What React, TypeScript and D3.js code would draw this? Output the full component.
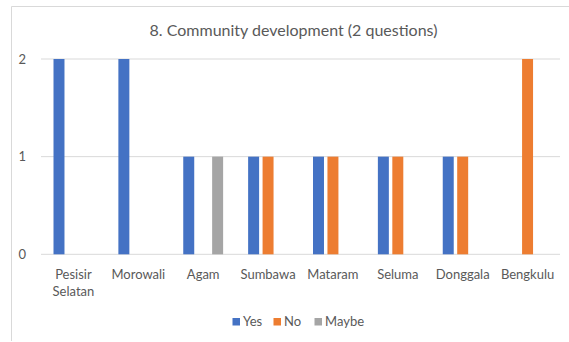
import React from "react";
import * as d3 from "d3";

const categories: string[][] = [
  ["Pesisir", "Selatan"],
  ["Morowali"],
  ["Agam"],
  ["Sumbawa"],
  ["Mataram"],
  ["Seluma"],
  ["Donggala"],
  ["Bengkulu"],
];
const seriesNames = ["Yes", "No", "Maybe"];
const seriesColors = ["#4472C4", "#ED7D31", "#A5A5A5"];
const yesValues = [2, 2, 1, 1, 1, 1, 1, 0];
const noValues = [0, 0, 0, 1, 1, 1, 1, 2];
const maybeValues = [0, 0, 1, 0, 0, 0, 0, 0];
const yTicks = [0, 1, 2];
const title = "8. Community development (2 questions)";

const W = 569;
const H = 342;
const FONT = "Lato, 'Open Sans', sans-serif";
const TEXT = "#595959";

export default function App() {
  const values = [yesValues, noValues, maybeValues];
  const keys = categories.map((c) => c.join(" "));
  const x0 = d3.scaleBand<string>().domain(keys).range([41, 560]).padding(0);
  const groupPad = 12.5;
  const x1 = d3
    .scaleBand<string>()
    .domain(seriesNames)
    .range([groupPad, x0.bandwidth() - groupPad])
    .paddingInner(0.24)
    .paddingOuter(0);
  const y = d3.scaleLinear().domain([0, 2]).range([254.3, 59]);

  const legendX = [232.5, 273.5, 314.5];

  return (
    <svg
      width={W}
      height={H}
      style={{ position: "absolute", left: 0, top: 0, background: "#fff" }}
      fontFamily={FONT}
    >
      <rect x={0} y={0} width={W} height={H} fill="#fff" />
      <path d={`M11.5,341 V6.5 H${W + 2}`} fill="none" stroke="#d9d9d9" strokeWidth={1} />
      <text x={293.5} y={35.5} textAnchor="middle" fontSize={16} fill={TEXT}>
        {title}
      </text>
      {yTicks.map((t) => (
        <g key={t}>
          <line x1={41} x2={560} y1={y(t)} y2={y(t)} stroke="#d9d9d9" strokeWidth={1} />
          <text x={26} y={y(t) + 4.5} textAnchor="end" fontSize={13} fill={TEXT}>
            {t}
          </text>
        </g>
      ))}
      {keys.map((k, i) => (
        <g key={k} transform={`translate(${x0(k)},0)`}>
          {seriesNames.map((s, j) =>
            values[j][i] > 0 ? (
              <rect
                key={s}
                x={x1(s)}
                width={x1.bandwidth()}
                y={y(values[j][i])}
                height={y(0) - y(values[j][i])}
                fill={seriesColors[j]}
              />
            ) : null
          )}
          <text
            x={x0.bandwidth() / 2}
            y={278.5}
            textAnchor="middle"
            fontSize={13}
            fill={TEXT}
          >
            {categories[i].map((line, li) => (
              <tspan key={li} x={x0.bandwidth() / 2} dy={li === 0 ? 0 : 17}>
                {line}
              </tspan>
            ))}
          </text>
        </g>
      ))}
      {seriesNames.map((s, j) => (
        <g key={s}>
          <rect x={legendX[j]} y={318} width={7.5} height={7.5} fill={seriesColors[j]} />
          <text x={legendX[j] + 10.5} y={325.8} fontSize={13} fill={TEXT}>
            {s}
          </text>
        </g>
      ))}
    </svg>
  );
}
